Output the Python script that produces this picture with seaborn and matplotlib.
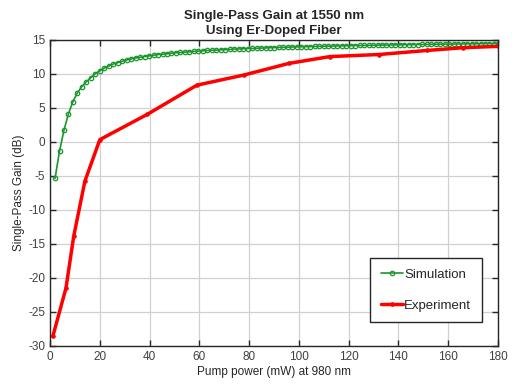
import numpy as np
import pandas as pd
import matplotlib
matplotlib.use("Agg")
import matplotlib.pyplot as plt
import seaborn as sns

# Simulation curve
sim_power = [2, 3.8, 5.6, 7.4, 9.2, 11, 12.8, 14.6, 16.4, 18.2,
             20, 21.8, 23.6, 25.4, 27.2, 29, 30.8, 32.6, 34.4, 36.2,
             38, 39.8, 41.6, 43.4, 45.2, 47, 48.8, 50.6, 52.4, 54.2,
             56, 57.8, 59.6, 61.4, 63.2, 65, 66.8, 68.6, 70.4, 72.2,
             74, 75.8, 77.6, 79.4, 81.2, 83, 84.8, 86.6, 88.4, 90.2,
             92, 93.8, 95.6, 97.4, 99.2, 101, 102.8, 104.6, 106.4, 108.2,
             110, 111.8, 113.6, 115.4, 117.2, 119, 120.8, 122.6, 124.4, 126.2,
             128, 129.8, 131.6, 133.4, 135.2, 137, 138.8, 140.6, 142.4, 144.2,
             146, 147.8, 149.6, 151.4, 153.2, 155, 156.8, 158.6, 160.4, 162.2,
             164, 165.8, 167.6, 169.4, 171.2, 173, 174.8, 176.6, 178.4, 180]
sim_gain = [-5.4, -1.4, 1.7, 4.1, 5.9, 7.2, 8.1, 8.8, 9.4, 10.0,
            10.4, 10.8, 11.1, 11.4, 11.6, 11.8, 12.0, 12.15, 12.3, 12.4,
            12.5, 12.6, 12.7, 12.8, 12.85, 12.9, 13.0, 13.05, 13.1, 13.15,
            13.2, 13.25, 13.3, 13.35, 13.4, 13.42, 13.45, 13.5, 13.52, 13.55,
            13.6, 13.62, 13.65, 13.68, 13.7, 13.72, 13.75, 13.77, 13.8, 13.82,
            13.84, 13.86, 13.88, 13.9, 13.92, 13.94, 13.96, 13.97, 13.99, 14.0,
            14.02, 14.03, 14.05, 14.06, 14.08, 14.09, 14.1, 14.12, 14.13, 14.14,
            14.15, 14.16, 14.18, 14.19, 14.2, 14.21, 14.22, 14.23, 14.24, 14.25,
            14.26, 14.27, 14.28, 14.29, 14.3, 14.31, 14.32, 14.33, 14.33, 14.34,
            14.35, 14.36, 14.37, 14.37, 14.38, 14.39, 14.4, 14.4, 14.41, 14.42]

# Experiment points
exp_power = [1.1, 6.4, 9.5, 14, 20, 39, 59, 78, 96, 112.5, 132, 151.5, 166, 180]
exp_gain = [-28.6, -21.5, -13.9, -5.8, 0.3, 4.0, 8.3, 9.8, 11.5, 12.5, 12.8, 13.4, 13.8, 14.0]

x_ticks = [0, 20, 40, 60, 80, 100, 120, 140, 160, 180]
y_ticks = [-30, -25, -20, -15, -10, -5, 0, 5, 10, 15]

sim = pd.DataFrame({"power": sim_power, "gain": sim_gain})
exp = pd.DataFrame({"power": exp_power, "gain": exp_gain})

sns.set_style("whitegrid")
plt.rcParams['font.family'] = ['Liberation Sans', 'DejaVu Sans']
plt.rcParams['axes.unicode_minus'] = False

fig = plt.figure(figsize=(5.16, 3.84), dpi=100)
ax = fig.add_axes([0.097, 0.099, 0.868, 0.798])

green = '#1a962c'
sns.lineplot(data=sim, x="power", y="gain", ax=ax, sort=False, estimator=None,
             color=green, lw=1.2, marker='o', markersize=3.2,
             markerfacecolor='none', markeredgecolor=green, markeredgewidth=0.9,
             label='Simulation')
sns.lineplot(data=exp, x="power", y="gain", ax=ax, sort=False, estimator=None,
             color='#ff0000', lw=2.5, marker='.', markersize=5,
             markeredgecolor='#ff0000', label='Experiment')

ax.set_xlim(0, 180)
ax.set_ylim(-30, 15)
ax.set_xticks(x_ticks)
ax.set_yticks(y_ticks)
ax.grid(True, color='#d0d0d0', lw=0.9)
for s in ax.spines.values():
    s.set_color('#262626')
    s.set_linewidth(1.0)
ax.tick_params(direction='in', length=4, width=1, color='#262626',
               labelsize=8.5, labelcolor='#404040', top=True, right=True,
               bottom=True, left=True)

ax.set_xlabel('Pump power (mW) at 980 nm', fontsize=8.5, color='#262626', labelpad=2)
ax.set_ylabel('Single-Pass Gain (dB)', fontsize=8.5, color='#262626', labelpad=2)
ax.set_title('Single-Pass Gain at 1550 nm\nUsing Er-Doped Fiber', fontsize=9.5,
             fontweight='bold', color='#262626', pad=4, linespacing=1.3)

leg = ax.legend(loc='lower right', bbox_to_anchor=(0.964, 0.078), fontsize=9.5,
                frameon=True, fancybox=False, edgecolor='#262626',
                labelspacing=1.4, handlelength=1.7, handletextpad=0.1,
                borderpad=0.8, borderaxespad=0, framealpha=1)
leg.get_frame().set_linewidth(1.0)

fig.savefig('out.png', dpi=100)
